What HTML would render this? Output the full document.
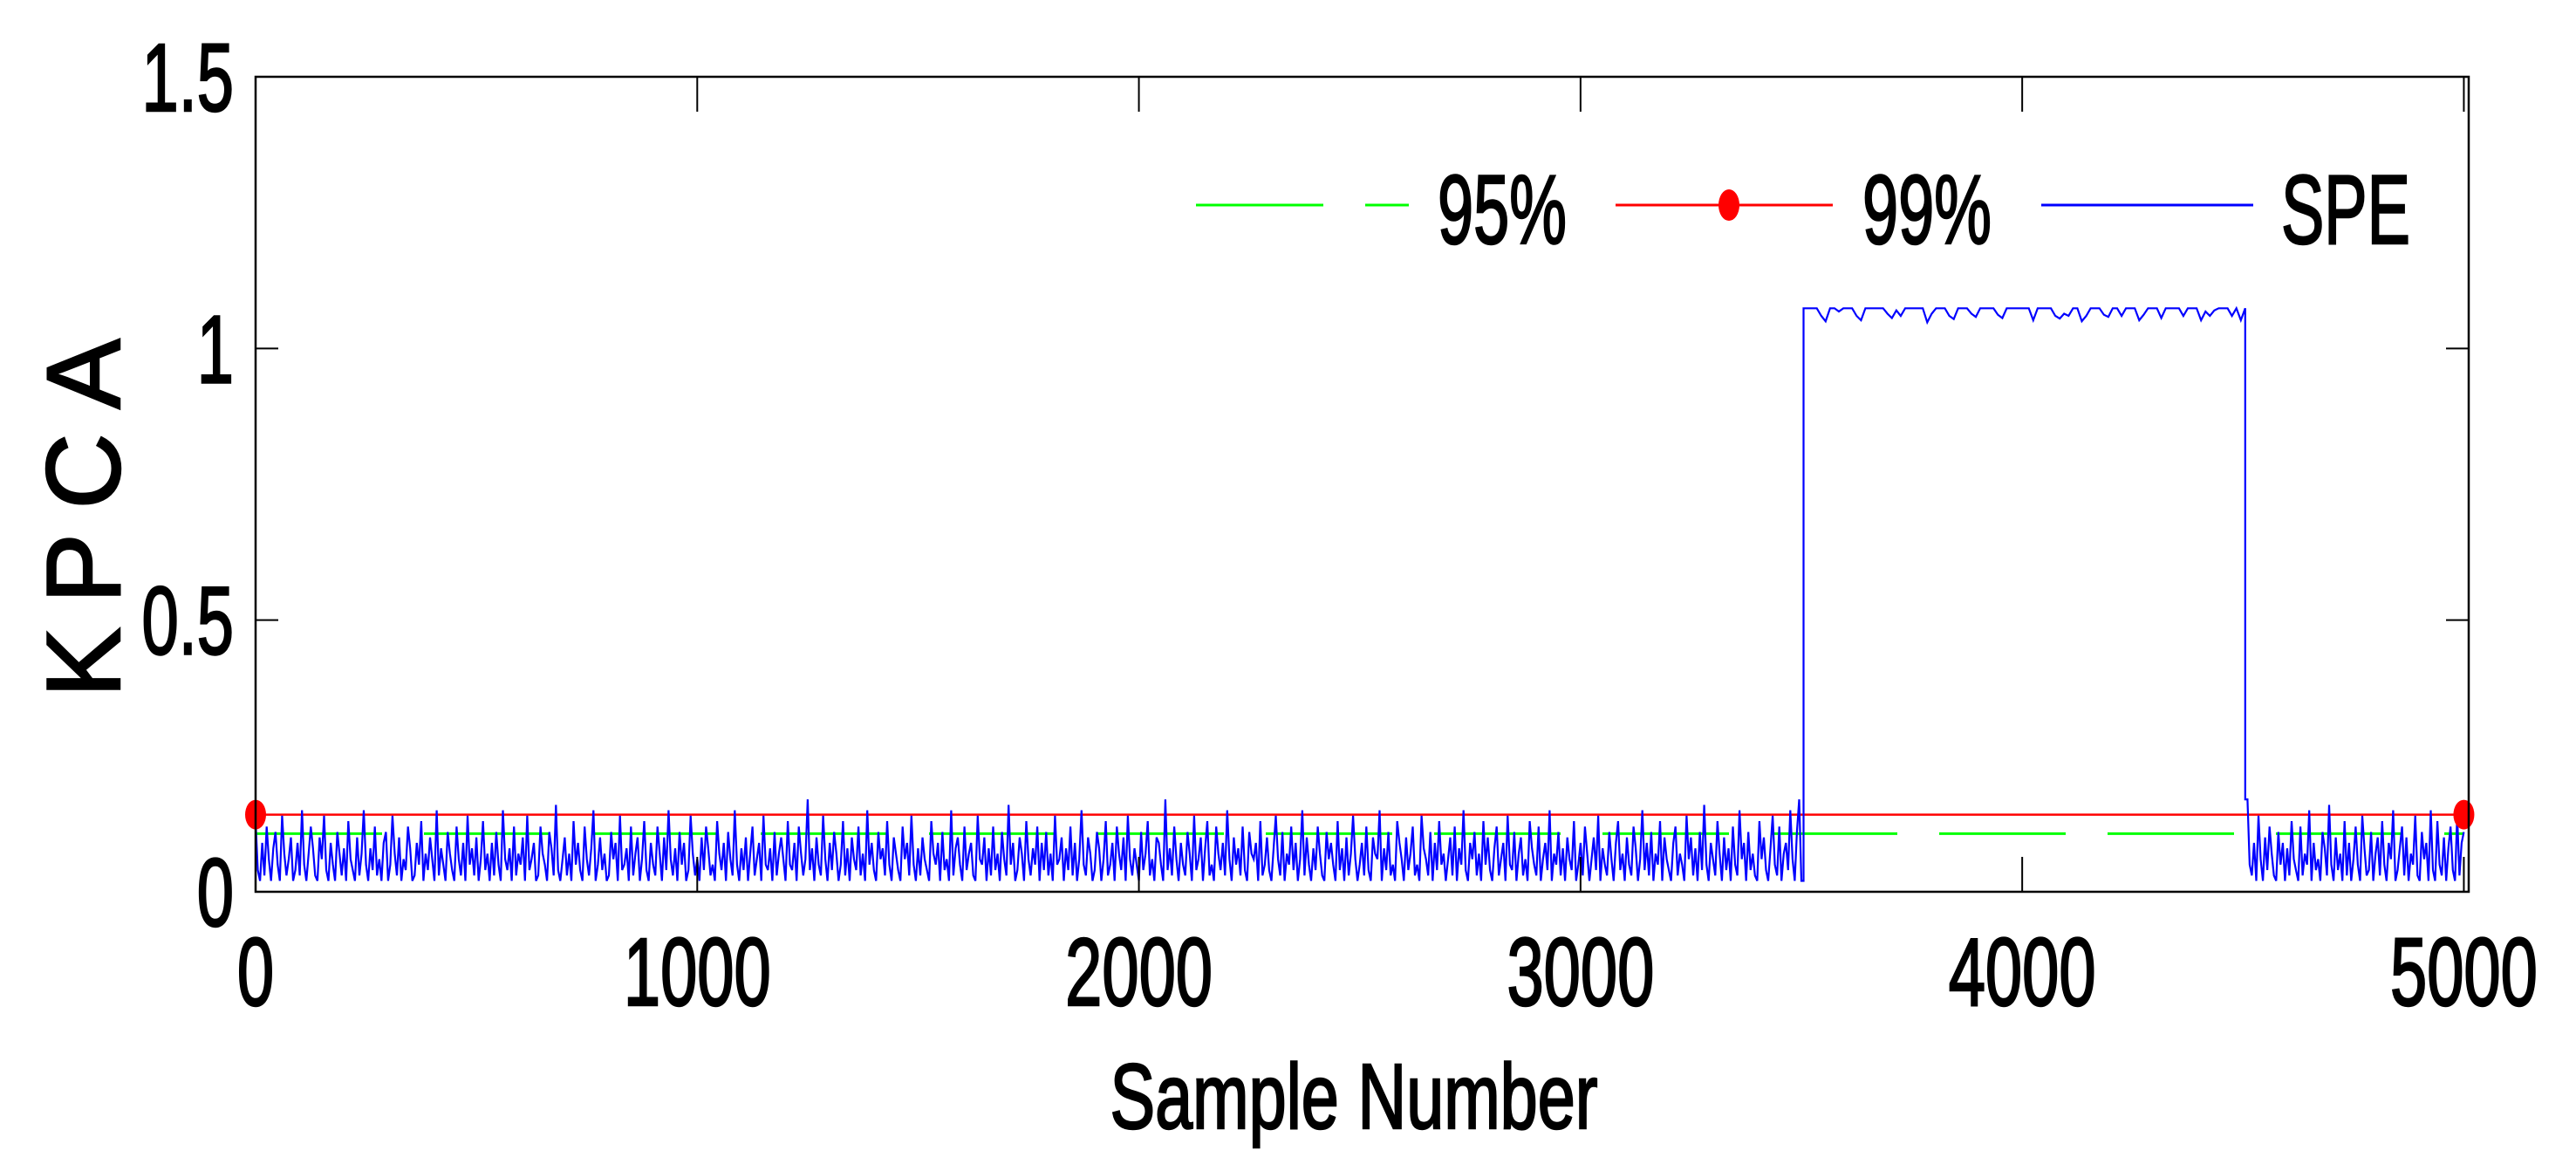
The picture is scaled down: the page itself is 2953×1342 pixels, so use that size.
<!DOCTYPE html>
<html><head><meta charset="utf-8"><title>KPCA SPE chart</title>
<style>
html,body{margin:0;padding:0;background:#fff;}
svg{display:block;}
text{font-family:"Liberation Sans",sans-serif;fill:#000;stroke:#000;stroke-width:2.5px;}
</style></head>
<body>
<svg id="chart" width="2953" height="1342" viewBox="0 0 2953 1342" xmlns="http://www.w3.org/2000/svg">
<rect x="0" y="0" width="2953" height="1342" fill="#fff"/>
<g id="plot"></g>
<g id="axes"></g>
<g id="legend"></g>
</svg>
<script>
// ---- data ----
const xTicks = [0, 1000, 2000, 3000, 4000, 5000];
const xTickLabels = ["0", "1000", "2000", "3000", "4000", "5000"];
const yTicks = [0, 0.5, 1, 1.5];
const yTickLabels = ["0", "0.5", "1", "1.5"];
const limit95 = 0.107;
const limit99 = 0.142;
const noiseAStart = 0, noiseAStep = 5;
// SPE before fault (hundredths), samples 0..3500 step 5
const noiseA = [
13,4,2,9,3,12,6,2,8,11,5,2,14,7,3,6,10,2,4,9,
3,15,5,2,7,12,8,3,2,10,6,14,4,2,9,5,2,11,7,3,
8,2,13,6,4,2,10,3,7,15,5,2,8,4,12,3,6,2,9,11,
2,5,14,7,3,10,2,6,4,12,8,2,3,9,5,13,2,7,4,10,
6,2,15,3,8,5,2,11,7,4,2,12,6,3,9,2,14,5,8,3,
10,2,6,13,4,7,2,9,3,11,5,2,15,6,4,8,2,12,3,7,
5,10,2,14,4,6,9,2,3,12,7,5,2,11,8,3,16,4,2,6,
10,3,7,2,13,5,9,4,2,12,6,3,8,15,2,5,10,4,7,2,
3,11,6,9,2,14,4,5,8,2,12,3,7,10,2,6,13,4,2,9,
5,3,12,7,2,10,4,15,6,3,8,2,11,5,9,2,4,14,7,3,
6,2,10,4,12,8,3,5,2,13,7,4,9,2,11,6,3,15,5,2,
8,4,10,2,7,12,3,6,9,2,14,5,4,8,2,11,3,7,10,6,
2,13,5,4,9,2,12,7,3,6,17,4,8,2,10,5,3,14,6,2,
9,4,11,7,2,5,13,3,8,2,10,6,4,12,3,7,2,15,5,9,
4,2,11,6,8,3,13,5,2,10,7,4,2,12,6,9,3,14,5,2,
8,3,10,6,4,2,13,7,5,9,2,11,4,6,2,15,3,8,10,5,
2,12,4,7,9,3,2,14,6,5,10,2,8,3,12,4,7,2,11,6,
3,16,5,9,2,4,10,7,2,13,6,3,8,5,12,2,9,4,11,3,
7,2,14,5,6,10,2,8,4,12,3,9,2,6,15,5,3,10,7,2,
4,11,8,2,6,13,3,5,9,2,12,7,4,10,2,14,6,3,8,5,
2,11,4,7,13,3,6,2,10,9,5,2,17,4,8,3,12,6,2,9,
5,3,11,7,2,14,4,6,10,2,8,13,3,5,2,12,7,4,9,3,
15,6,2,10,5,8,3,12,4,2,11,7,6,9,2,13,3,5,10,4,
2,8,14,6,3,11,2,7,5,12,4,9,2,6,15,3,10,5,2,8,
4,12,7,3,2,11,6,9,5,2,13,4,8,2,10,3,7,14,6,2,
5,9,3,12,4,2,10,7,6,15,2,8,4,11,3,5,2,13,9,6,
2,10,4,7,12,3,5,2,14,8,6,3,11,2,9,4,13,5,7,2,
6,10,3,12,2,8,5,15,4,2,9,6,11,3,7,2,13,5,10,4,
2,8,12,3,6,9,2,14,5,4,11,2,7,10,3,6,2,13,8,5,
3,12,2,6,9,4,15,2,7,5,11,3,8,2,10,6,4,13,2,5,
9,3,12,7,2,6,10,4,14,2,8,5,3,11,6,2,9,13,4,7,
2,10,5,3,12,8,2,6,15,4,9,3,11,2,7,5,13,2,10,6,
4,2,9,12,3,7,5,2,14,6,10,3,8,2,11,4,16,5,2,9,
6,3,13,7,2,10,4,8,2,12,5,3,15,6,9,2,11,4,7,3,
2,13,6,10,4,2,8,14,5,3,12,2,7,9,4,15,6,2,11,17,
2
];
const faultStart = 3505, faultStep = 10;
// SPE during fault, samples 3505..4505 step 10
const fault = [
1.074,1.074,1.074,1.074,1.060,1.050,1.074,1.074,1.068,1.074,
1.074,1.074,1.060,1.052,1.074,1.074,1.074,1.074,1.074,1.064,
1.056,1.070,1.060,1.074,1.074,1.074,1.074,1.074,1.048,1.064,
1.074,1.074,1.074,1.060,1.054,1.074,1.074,1.074,1.064,1.058,
1.074,1.074,1.074,1.074,1.062,1.056,1.074,1.074,1.074,1.074,
1.074,1.074,1.052,1.074,1.074,1.074,1.074,1.060,1.055,1.064,
1.060,1.074,1.074,1.050,1.060,1.074,1.074,1.074,1.062,1.058,
1.074,1.074,1.060,1.074,1.074,1.074,1.052,1.062,1.074,1.074,
1.074,1.056,1.074,1.074,1.074,1.074,1.060,1.074,1.074,1.074,
1.052,1.068,1.060,1.070,1.074,1.074,1.074,1.060,1.074,1.052,
1.074
];
const noiseBStart = 4510, noiseBStep = 5;
// SPE after fault (hundredths), samples 4510..5000 step 5
const noiseB = [
17,5,3,9,2,14,6,2,10,4,12,7,3,2,11,5,9,2,8,3,
13,6,4,2,12,3,7,5,15,2,9,4,6,2,11,8,3,16,5,2,
10,4,7,2,13,3,9,2,6,12,5,2,14,8,3,4,11,2,7,10,
3,13,5,2,9,6,15,2,4,8,12,3,10,2,7,5,14,3,2,11,
6,9,2,15,4,2,13,5,3,10,2,8,12,4,2,14,3,9,11
];

// ---- scales ----
const X0 = 293, X1 = 2830, Y0 = 1022, Y1 = 88;
const xMax = 5011, yMax = 1.5;
function sx(v){ return X0 + v / xMax * (X1 - X0); }
function sy(v){ return Y0 - v / yMax * (Y0 - Y1); }
const NS = "http://www.w3.org/2000/svg";
function mk(tag, attrs, parent){
  const e = document.createElementNS(NS, tag);
  for (const k in attrs) e.setAttribute(k, attrs[k]);
  parent.appendChild(e);
  return e;
}
const plot = document.getElementById('plot');
const axes = document.getElementById('axes');
const legend = document.getElementById('legend');

// ---- SPE series ----
let pts = [];
noiseA.forEach((v,i)=>{ pts.push(sx(noiseAStart+i*noiseAStep).toFixed(1)+','+sy(v/100).toFixed(1)); });
pts.push(sx(faultStart).toFixed(1)+','+sy(noiseA[noiseA.length-1]/100).toFixed(1));
fault.forEach((v,i)=>{ pts.push(sx(faultStart+i*faultStep).toFixed(1)+','+sy(v).toFixed(1)); });
pts.push(sx(faultStart+(fault.length-1)*faultStep).toFixed(1)+','+sy(noiseB[0]/100).toFixed(1));
noiseB.forEach((v,i)=>{ pts.push(sx(noiseBStart+i*noiseBStep).toFixed(1)+','+sy(v/100).toFixed(1)); });

const l95 = mk('line',{x1:sx(0),x2:sx(5000),y1:sy(limit95),y2:sy(limit95),stroke:'#00ff00','stroke-width':3,'stroke-dasharray':'145 48'},plot);


const l99 = mk('line',{x1:sx(0),x2:sx(5000),y1:sy(limit99),y2:sy(limit99),stroke:'#ff0000','stroke-width':2.5},plot);



const spe = mk('polyline',{points:pts.join(' '),fill:'none',stroke:'#0000ff','stroke-width':2.2,'stroke-linejoin':'miter'},plot);



[0,5000].forEach(v=>{
  const m = mk('ellipse',{cx:sx(v),cy:sy(limit99),rx:12,ry:17,fill:'#ff0000'},plot);
  
  
});

// ---- axes box ----
const box = mk('rect',{x:X0,y:Y1,width:X1-X0,height:Y0-Y1,fill:'none',stroke:'#000','stroke-width':2.5},axes);



xTicks.forEach((v,i)=>{
  const x = sx(v);
  const t1 = mk('line',{x1:x,x2:x,y1:Y0,y2:Y0-40,stroke:'#000','stroke-width':2},axes);
  
  
  const t2 = mk('line',{x1:x,x2:x,y1:Y1,y2:Y1+40,stroke:'#000','stroke-width':2},axes);
  
  
  const lb = mk('text',{x:0,y:0,'font-size':110,'text-anchor':'middle',transform:'translate('+x+',1152) scale(0.69,1)'},axes);
  lb.textContent = xTickLabels[i];
  
  
});
yTicks.forEach((v,i)=>{
  const y = sy(v);
  const t1 = mk('line',{x1:X0,x2:X0+26,y1:y,y2:y,stroke:'#000','stroke-width':2},axes);
  
  
  const t2 = mk('line',{x1:X1,x2:X1-26,y1:y,y2:y,stroke:'#000','stroke-width':2},axes);
  
  
  const lb = mk('text',{x:0,y:0,'font-size':110,'text-anchor':'end',transform:'translate(268,'+(y+39)+') scale(0.69,1)'},axes);
  lb.textContent = yTickLabels[i];
  
  
});

const xt = mk('text',{x:0,y:0,'font-size':106,'text-anchor':'middle',transform:'translate(1552,1293) scale(0.73,1)'},axes);
xt.textContent = 'Sample Number';


const yt = mk('text',{x:0,y:0,'font-size':120,'text-anchor':'middle','letter-spacing':'28',transform:'translate(137,580) rotate(-90)'},axes);
yt.textContent = 'KPCA';



// ---- legend ----
const LY = 235;
const g1 = mk('line',{x1:1371,x2:1517,y1:LY,y2:LY,stroke:'#00ff00','stroke-width':3},legend);


const g2 = mk('line',{x1:1565,x2:1615,y1:LY,y2:LY,stroke:'#00ff00','stroke-width':3},legend);


const r1 = mk('line',{x1:1852,x2:2101,y1:LY,y2:LY,stroke:'#ff0000','stroke-width':3},legend);


const rm = mk('ellipse',{cx:1982,cy:LY,rx:12,ry:18,fill:'#ff0000'},legend);


const b1 = mk('line',{x1:2340,x2:2583,y1:LY,y2:LY,stroke:'#0000ff','stroke-width':3},legend);


const legendLabels = ["95%","99%","SPE"];
const legendX = [1648,2135,2615];
legendLabels.forEach((s,i)=>{
  const t = mk('text',{x:0,y:0,'font-size':112,'text-anchor':'start',transform:'translate('+legendX[i]+',279) scale(0.66,1)'},legend);
  t.textContent = s;
  
  
});
</script>
</body></html>
